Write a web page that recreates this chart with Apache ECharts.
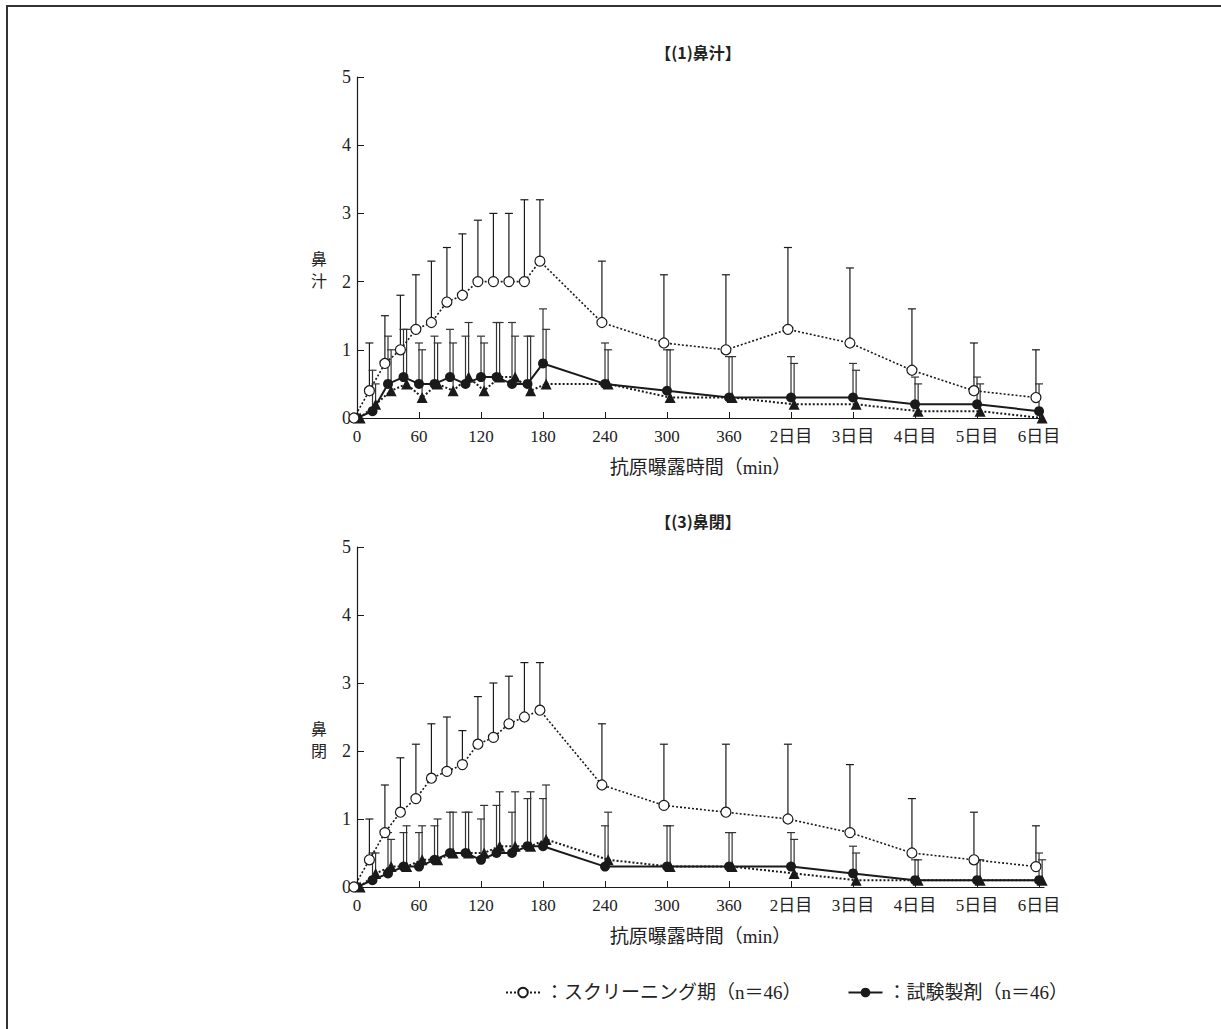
<!DOCTYPE html>
<html>
<head>
<meta charset="utf-8">
<script src="https://cdn.jsdelivr.net/npm/echarts@6/dist/echarts.min.js"></script>
<style>html,body{margin:0;padding:0;background:#fff;}#c{width:1221px;height:1029px;}</style>
</head>
<body>
<div id="c"></div>
<script>
// time points (minutes / day labels) and their axis position
const timePoints = ['0','15','30','45','60','75','90','105','120','135','150','165','180','240','300','360','2日目','3日目','4日目','5日目','6日目'];
const tickLabels = ['0','60','120','180','240','300','360','2日目','3日目','4日目','5日目','6日目'];

// (1) 鼻汁
const runnyScreen      = [0,0.4,0.8,1.0,1.3,1.4,1.7,1.8,2.0,2.0,2.0,2.0,2.3,1.4,1.1,1.0,1.3,1.1,0.7,0.4,0.3];
const runnyScreenUpper = [0,1.1,1.5,1.8,2.1,2.3,2.5,2.7,2.9,3.0,3.0,3.2,3.2,2.3,2.1,2.1,2.5,2.2,1.6,1.1,1.0];
const runnyDrug        = [0,0.1,0.5,0.6,0.5,0.5,0.6,0.5,0.6,0.6,0.5,0.5,0.8,0.5,0.4,0.3,0.3,0.3,0.2,0.2,0.1];
const runnyDrugUpper   = [0,0.7,1.2,1.3,1.1,1.2,1.3,1.2,1.2,1.4,1.4,1.2,1.6,1.1,1.0,0.9,0.9,0.8,0.6,0.6,0.5];
const runnyOther       = [0,0.2,0.4,0.5,0.3,0.5,0.4,0.6,0.4,0.6,0.6,0.4,0.5,0.5,0.3,0.3,0.2,0.2,0.1,0.1,0.0];
const runnyOtherUpper  = [0,0.5,1.0,1.3,1.0,1.1,1.1,1.4,1.1,1.4,1.2,1.2,1.3,1.0,1.0,0.9,0.8,0.7,0.5,0.5,0.0];

// (3) 鼻閉
const blockScreen      = [0,0.4,0.8,1.1,1.3,1.6,1.7,1.8,2.1,2.2,2.4,2.5,2.6,1.5,1.2,1.1,1.0,0.8,0.5,0.4,0.3];
const blockScreenUpper = [0,1.0,1.5,1.9,2.1,2.4,2.5,2.3,2.8,3.0,3.1,3.3,3.3,2.4,2.1,2.1,2.1,1.8,1.3,1.1,0.9];
const blockDrug        = [0,0.1,0.2,0.3,0.3,0.4,0.5,0.5,0.4,0.5,0.5,0.6,0.6,0.3,0.3,0.3,0.3,0.2,0.1,0.1,0.1];
const blockDrugUpper   = [0,0.5,0.8,0.8,0.8,0.9,1.1,1.1,1.0,1.2,1.1,1.3,1.3,0.9,0.9,0.8,0.8,0.6,0.4,0.4,0.5];
const blockOther       = [0,0.2,0.3,0.3,0.4,0.4,0.5,0.5,0.5,0.6,0.6,0.6,0.7,0.4,0.3,0.3,0.2,0.1,0.1,0.1,0.1];
const blockOtherUpper  = [0,0.5,0.7,0.9,0.9,1.0,1.1,1.1,1.2,1.4,1.4,1.4,1.5,1.1,0.9,0.8,0.7,0.5,0.4,0.4,0.4];

const yTicks = [0,1,2,3,4,5];

function pos(t){
  if (t.indexOf('日目') >= 0) return 5 + parseInt(t, 10);
  const m = parseFloat(t);
  return m <= 360 ? m / 60 : 0;
}
const xs = timePoints.map(pos);
const tickPos = tickLabels.map(pos);

const SERIF = "'Liberation Serif','Noto Sans CJK JP'";
const CJK = "'Noto Sans CJK JP'";
const BLACK = '#1a1a1a';

function pairs(vals, off){ return vals.map((v,i)=>[xs[i]+off, v]); }
function bars(vals, up, off){ return vals.map((v,i)=>[xs[i]+off, v, up[i]]); }

function errSeries(vals, up, off, gi, color){
  return {
    type:'custom', xAxisIndex:gi, yAxisIndex:gi, z:1, silent:true, clip:false,
    data: bars(vals, up, off),
    renderItem(params, api){
      const p0 = api.coord([api.value(0), api.value(1)]);
      const p1 = api.coord([api.value(0), api.value(2)]);
      if (api.value(2) <= api.value(1)) return {type:'group', children:[]};
      const st = {stroke: color, lineWidth: 1.2};
      return {type:'group', children:[
        {type:'line', shape:{x1:p0[0], y1:p0[1], x2:p1[0], y2:p1[1]}, style:st},
        {type:'line', shape:{x1:p1[0]-4, y1:p1[1], x2:p1[0]+4, y2:p1[1]}, style:st}
      ]};
    }
  };
}

function panel(gi, scr, scrU, drug, drugU, oth, othU){
  return [
    errSeries(scr, scrU, -0.05, gi, BLACK),
    errSeries(oth, othU, 0.05, gi, '#333'),
    errSeries(drug, drugU, 0, gi, '#333'),
    {name:'対照', type:'line', xAxisIndex:gi, yAxisIndex:gi, clip:false, z:3,
     data: pairs(oth, 0.05), symbol:'triangle', symbolSize:11,
     lineStyle:{color:BLACK, width:2, type:[2,2]}, itemStyle:{color:BLACK}},
    {name:'試験製剤', type:'line', xAxisIndex:gi, yAxisIndex:gi, clip:false, z:4,
     data: pairs(drug, 0), symbol:'circle', symbolSize:10,
     lineStyle:{color:BLACK, width:2, type:'solid'}, itemStyle:{color:BLACK}},
    {name:'スクリーニング期', type:'line', xAxisIndex:gi, yAxisIndex:gi, clip:false, z:5,
     data: pairs(scr, -0.05), symbol:'circle', symbolSize:10, showAllSymbol:true,
     lineStyle:{color:BLACK, width:1.6, type:[2,2]}, itemStyle:{color:'#ffffff', borderColor:BLACK, borderWidth:1.2}}
  ];
}

function xAxis(gi){
  return {
    type:'value', gridIndex:gi, min:0, max:11.08,
    axisLine:{show:true, lineStyle:{color:BLACK, width:1.2}},
    axisTick:{show:true, inside:true, length:6, customValues: tickPos, lineStyle:{color:BLACK}},
    axisLabel:{customValues: tickPos, margin:10, fontSize:17, fontFamily:SERIF, color:'#222',
      formatter: v => { const i = tickPos.findIndex(p => Math.abs(p - v) < 1e-6); return i >= 0 ? tickLabels[i] : ''; }},
    splitLine:{show:false},
    name:'抗原曝露時間（min）', nameLocation:'middle', nameGap:40,
    nameTextStyle:{fontSize:19, fontFamily:SERIF, color:'#222'}
  };
}
function yAxis(gi){
  return {
    type:'value', gridIndex:gi, min:0, max:5, interval:1,
    axisLine:{show:true, lineStyle:{color:BLACK, width:1.2}},
    axisTick:{show:true, inside:true, length:7, lineStyle:{color:BLACK}},
    axisLabel:{margin:6, fontSize:18, fontFamily:SERIF, color:'#222',
      formatter: v => yTicks.indexOf(v) >= 0 ? String(v) : ''},
    splitLine:{show:false}
  };
}

const chart = echarts.init(document.getElementById('c'), null, {renderer:'svg'});
chart.setOption({
  animation:false,
  backgroundColor:'#fff',
  grid:[
    {left:357, top:77, width:687, height:341},
    {left:357, top:547, width:687, height:340}
  ],
  xAxis:[xAxis(0), xAxis(1)],
  yAxis:[yAxis(0), yAxis(1)],
  legend:{
    left:500, top:978, itemWidth:34, itemHeight:12, itemGap:46,
    data:['スクリーニング期','試験製剤'],
    formatter: n => '：' + n + '（n＝46）',
    textStyle:{fontSize:19, fontFamily:SERIF, color:'#222'}
  },
  graphic:[
    {type:'line', shape:{x1:6, y1:6, x2:1221, y2:6}, style:{stroke:'#333', lineWidth:2}, silent:true},
    {type:'line', shape:{x1:7, y1:6, x2:7, y2:1029}, style:{stroke:'#333', lineWidth:2}, silent:true},
    {type:'text', x:698, y:52, style:{text:'【(1)鼻汁】', fontSize:16, fontWeight:'bold', fontFamily:CJK, fill:'#222', align:'center', verticalAlign:'middle'}},
    {type:'text', x:698, y:521, style:{text:'【(3)鼻閉】', fontSize:16, fontWeight:'bold', fontFamily:CJK, fill:'#222', align:'center', verticalAlign:'middle'}},
    {type:'text', x:319, y:269, style:{text:'鼻\n汁', fontSize:16, lineHeight:22, fontFamily:CJK, fill:'#222', align:'center', verticalAlign:'middle'}},
    {type:'text', x:319, y:739, style:{text:'鼻\n閉', fontSize:16, lineHeight:22, fontFamily:CJK, fill:'#222', align:'center', verticalAlign:'middle'}}
  ],
  series:[].concat(
    panel(0, runnyScreen, runnyScreenUpper, runnyDrug, runnyDrugUpper, runnyOther, runnyOtherUpper),
    panel(1, blockScreen, blockScreenUpper, blockDrug, blockDrugUpper, blockOther, blockOtherUpper)
  )
});
</script>
</body>
</html>
